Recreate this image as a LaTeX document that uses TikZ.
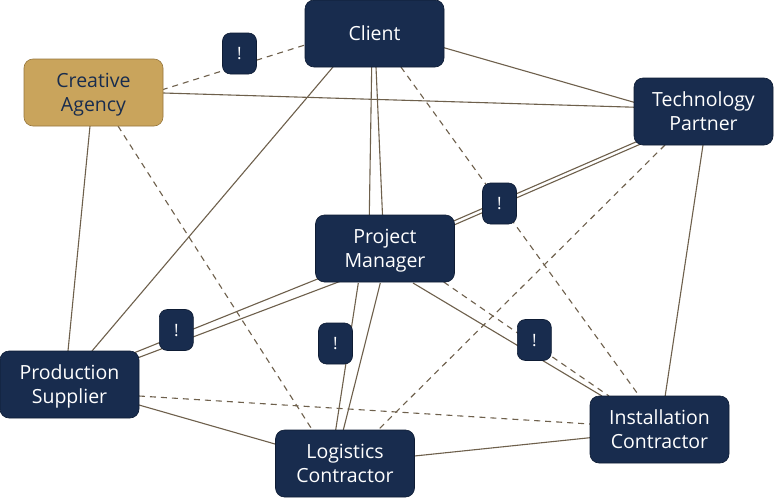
\documentclass[tikz,border=0pt]{standalone}
\usepackage{fontspec}
\setmainfont{Open Sans}
\usetikzlibrary{calc,backgrounds}
\definecolor{navy}{RGB}{24,44,78}
\definecolor{navyline}{RGB}{14,28,52}
\definecolor{gold}{RGB}{201,164,92}
\definecolor{goldline}{RGB}{150,118,60}
\definecolor{edgec}{RGB}{110,96,76}
\begin{document}
\begin{tikzpicture}[x=1pt,y=-1pt,
  box/.style={rectangle, rounded corners=9pt, fill=navy, draw=navyline, line width=0.6pt,
    minimum width=139pt, minimum height=67pt, text=white, text depth=0pt,
    font=\fontsize{19.5}{24}\selectfont, align=center, inner sep=0pt},
  goldbox/.style={box, fill=gold, draw=goldline, text=navy},
  badge/.style={rectangle, rounded corners=8pt, fill=navy, draw=navyline, line width=0.6pt,
    minimum width=34pt, minimum height=41pt, text=white, text depth=0pt,
    font=\fontsize{17}{18}\selectfont, inner sep=0pt},
  link/.style={draw=edgec, line width=1.1pt},
  dlink/.style={link, dash pattern=on 6pt off 5pt}]
\useasboundingbox (0,0) rectangle (774,498);
% nodes
\node[box] (client) at (374.5,33.5) {Client};
\node[goldbox] (ca) at (93.5,92.5) {Creative\\Agency};
\node[box] (tp) at (703.5,111.5) {Technology\\Partner};
\node[box] (pm) at (385,248.5) {Project\\Manager};
\node[box] (ps) at (69.5,384.5) {Production\\Supplier};
\node[box] (lc) at (345,463.5) {Logistics\\Contractor};
\node[box] (ic) at (659.5,429.5) {Installation\\Contractor};
% badges
\node[badge] (b1) at (239.5,53.5) {!};
\node[badge] (b2) at (499.5,203.5) {!};
\node[badge] (b3) at (176.3,330) {!};
\node[badge] (b4) at (335.5,343.5) {!};
\node[badge] (b5) at (534.3,340) {!};
\begin{pgfonlayer}{background}
\fill[white] (0,0) rectangle (774,498);
% client links
\draw[dlink] ($(client.center)+(-60,8.5)$) -- ($(ca.center)+(60,0)$);
\draw[link] ($(client.center)+(60,11.5)$) -- ($(tp.center)+(-60,-6.5)$);
\draw[link] ($(ca.center)+(60,0.2)$) -- ($(tp.center)+(-60,-4)$);
\draw[link] ($(client.center)+(-41.5,33.5)$) -- ($(ps.center)+(22.5,-33.5)$);
\draw[link] ($(client.center)+(1.5,33.5)$) -- ($(pm.center)+(-2.5,-33.5)$);
\draw[link] ($(client.center)+(-2.8,33.5)$) -- ($(pm.center)+(-15.7,-33.5)$);
\draw[dlink] ($(client.center)+(26.4,33.5)$) -- ($(ic.center)+(-19.5,-32.5)$);
% technology partner
\draw[link] ($(pm.center)+(55.76,-17.76)$) -- ($(tp.center)+(-52.74,28.14)$);
\draw[link] ($(pm.center)+(54.24,-21.24)$) -- ($(tp.center)+(-54.26,24.66)$);
\draw[dlink] ($(tp.center)+(-38.5,33.5)$) -- ($(lc.center)+(32,-32.5)$);
\draw[link] ($(tp.center)+(-0.5,33.5)$) -- ($(ic.center)+(5.5,-32.5)$);
% creative agency
\draw[link] ($(ca.center)+(-3.5,33.5)$) -- ($(ps.center)+(-1.5,-33.5)$);
\draw[dlink] ($(ca.center)+(24.5,33.5)$) -- ($(lc.center)+(-32,-32.5)$);
% project manager
\draw[link] ($(pm.center)+(-55,25.5)$) -- ($(ps.center)+(60.5,-30)$);
\draw[link] ($(pm.center)+(-40,31)$) -- ($(ps.center)+(60.5,-23.7)$);
\draw[link] ($(pm.center)+(-26.7,34.5)$) -- ($(lc.center)+(-9.3,-33.5)$);
\draw[link] ($(pm.center)+(-4.7,34.5)$) -- ($(lc.center)+(-1.7,-33.5)$);
\draw[link] ($(pm.center)+(28,34.5)$) -- ($(ic.center)+(-57.5,-33.5)$);
\draw[dlink] ($(pm.center)+(58.7,33.5)$) -- ($(ic.center)+(-50.5,-33.5)$);
% lower links
\draw[dlink] ($(ps.center)+(69.5,11.5)$) -- ($(ic.center)+(-69.5,-5.5)$);
\draw[link] ($(ps.center)+(69.5,20.5)$) -- ($(lc.center)+(-70,-19.5)$);
\draw[link] ($(lc.center)+(69.5,-7.5)$) -- ($(ic.center)+(-69.5,8.2)$);
\end{pgfonlayer}
\end{tikzpicture}
\end{document}
